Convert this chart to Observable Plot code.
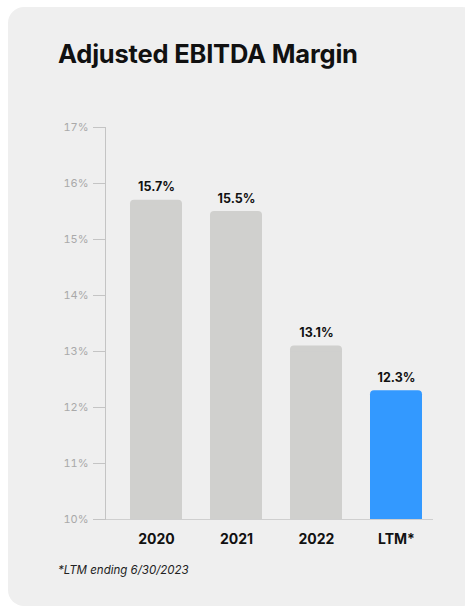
<!DOCTYPE html>
<html>
<head>
<meta charset="utf-8">
<script src="https://cdn.jsdelivr.net/npm/d3@7"></script>
<script src="https://cdn.jsdelivr.net/npm/@observablehq/plot@0.6"></script>
<style>
  html, body { margin: 0; padding: 0; background: #ffffff; }
  #wrap { position: relative; width: 465px; height: 609px; overflow: hidden; font-family: Inter, "Open Sans", sans-serif; }
  #card { position: absolute; left: 8px; top: 7px; width: 470px; height: 599px; background: #efefef; border-radius: 16px; }
  #title { position: absolute; left: 58px; top: 38px; font-size: 25.5px; font-weight: 700; color: #111; letter-spacing: -0.2px; white-space: nowrap; }
  #note { position: absolute; left: 58px; top: 563px; font-size: 11.5px; font-style: italic; color: #222; white-space: nowrap; }
  #chart { position: absolute; left: 0; top: 0; }
</style>
</head>
<body>
<div id="wrap">
  <div id="card"></div>
  <div id="title">Adjusted EBITDA Margin</div>
  <div id="chart"></div>
  <div id="note">*LTM ending 6/30/2023</div>
</div>
<script>
const categories = ["2020", "2021", "2022", "LTM*"];
const margins = [15.7, 15.5, 13.1, 12.3];
const barColors = ["#d0d0ce", "#d0d0ce", "#d0d0ce", "#3399ff"];
const yTicks = [10, 11, 12, 13, 14, 15, 16, 17];

const data = categories.map((c, i) => ({ cat: c, v: margins[i], color: barColors[i] }));
const base = yTicks[0];

const chart = Plot.plot({
  width: 465,
  height: 609,
  marginLeft: 105,
  marginRight: 29,
  marginTop: 127,
  marginBottom: 90,
  style: { background: "transparent", fontFamily: "Inter, 'Open Sans', sans-serif", overflow: "visible" },
  x: { domain: categories, paddingInner: 0.35, paddingOuter: 0.24375, align: 0.641 },
  y: { domain: [10, 17] },
  marks: [
    Plot.barY(data, { x: "cat", y1: () => base, y2: "v", fill: "color", rx: 4 }),
    Plot.barY(data, { x: "cat", y1: () => base, y2: "v", fill: "color", insetTop: 6 }),
    Plot.ruleY([base], { stroke: "#cfcfcf", strokeWidth: 1.2, insetRight: 3 }),
    Plot.axisY({ ticks: yTicks, tickFormat: d => d + "%", tickSize: 12, tickPadding: 5, stroke: "#c4c4c4", strokeOpacity: 1, strokeWidth: 1, fill: "#a9a9a9", fontSize: 11, label: null }),
    Plot.frame({ anchor: "left", stroke: "#c4c4c4", strokeOpacity: 1 }),
    Plot.axisX({ tickSize: 0, tickPadding: 15, fill: "#111", fontSize: 14, fontWeight: 700, label: null }),
    Plot.text(data, { x: "cat", y: "v", text: d => d.v.toFixed(1) + "%", dy: -9, lineAnchor: "bottom", fill: "#111", fontSize: 12.5, fontWeight: 700 })
  ]
});
document.getElementById("chart").appendChild(chart);
</script>
</body>
</html>
